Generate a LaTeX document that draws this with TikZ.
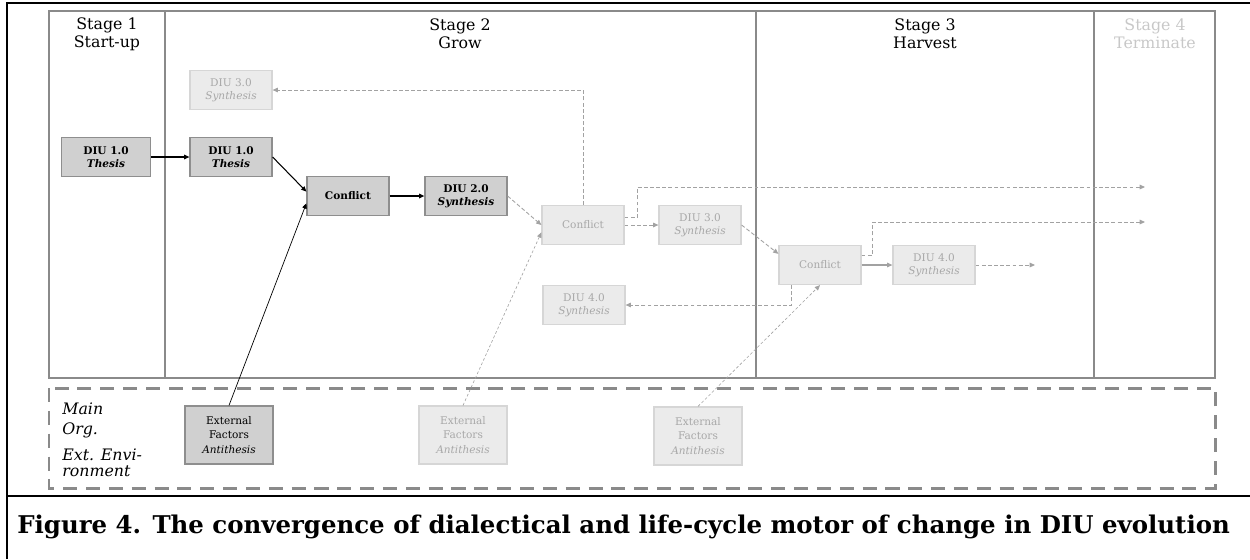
\documentclass[tikz,border=0pt]{standalone}
\usepackage{fontspec}
\setmainfont{DejaVu Serif}
\usetikzlibrary{arrows.meta,calc}
\definecolor{framegray}{HTML}{8A8A8A}
\definecolor{boxfill}{HTML}{D0D0D0}
\definecolor{boxedge}{HTML}{8E8E8E}
\definecolor{lightfill}{HTML}{EBEBEB}
\definecolor{lightedge}{HTML}{D6D6D6}
\definecolor{lighttext}{HTML}{A8A8A8}
\definecolor{fadetext}{HTML}{C8C8C8}
\definecolor{arrowgray}{HTML}{A2A2A2}

\begin{document}
\begin{tikzpicture}[x=0.02cm, y=-0.02cm,
  tip/.style={-{Triangle[length=3pt,width=2.6pt]}},
  darkbox/.style={draw=boxedge, fill=boxfill, line width=0.7pt, align=center,
    minimum width=1.64cm, minimum height=0.78cm, inner sep=1pt,
    font=\fontsize{6}{7.4}\selectfont\bfseries},
  lightbox/.style={draw=lightedge, fill=lightfill, text=lighttext, line width=0.7pt,
    align=center, minimum width=1.64cm, minimum height=0.78cm, inner sep=1pt,
    font=\fontsize{6}{7.4}\selectfont},
  extbox/.style={minimum width=1.76cm, minimum height=1.16cm,
    font=\fontsize{6}{8.2}\selectfont},
  stagetitle/.style={align=center, font=\fontsize{9}{10.4}\selectfont},
  sidelabel/.style={align=left, anchor=west, inner sep=0pt},
  solidarrow/.style={tip, draw=black, line width=0.6pt},
  dasharrow/.style={tip, draw=arrowgray, line width=0.5pt, dash pattern=on 2.2pt off 1.3pt},
  dotarrow/.style={tip, draw=arrowgray, line width=0.35pt, dash pattern=on 1.6pt off 1.2pt},
  greyarrow/.style={tip, draw=arrowgray, line width=0.6pt}]
 \useasboundingbox (0,0) rectangle (1250,559);
 \draw[line width=1.2pt] (7,559) -- (7,3) -- (1250,3);
 \draw[line width=1.2pt] (7,496) -- (1250,496);
 \draw[framegray, line width=1.4pt] (49,11) rectangle (1215,378);
 \foreach \xd in {165,756,1094}
   \draw[framegray, line width=1.4pt] (\xd,11) -- (\xd,378);
 \draw[framegray, line width=1.7pt, dash pattern=on 8pt off 5pt] (49,388) rectangle (1215,488);

 \node[stagetitle] (stage1) at (107,34) {Stage 1\\Start-up};
 \node[stagetitle] (stage2) at (460,34) {Stage 2\\Grow};
 \node[stagetitle] (stage3) at (925,34) {Stage 3\\Harvest};
 \node[stagetitle, text=fadetext] (stage4) at (1155,34) {Stage 4\\Terminate};

 \node[darkbox, minimum width=1.78cm] (thesisA) at (106,157) {DIU 1.0\\\textit{Thesis}};
 \node[darkbox] (thesisB) at (231,157) {DIU 1.0\\\textit{Thesis}};
 \node[darkbox] (conflictA) at (348,196) {Conflict};
 \node[darkbox] (synthA) at (466,196) {DIU 2.0\\\textit{Synthesis}};
 \node[lightbox] (synthB) at (231,90) {DIU 3.0\\\textit{Synthesis}};
 \node[lightbox] (conflictB) at (583,225) {Conflict};
 \node[lightbox] (synthC) at (700,225) {DIU 3.0\\\textit{Synthesis}};
 \node[lightbox] (synthD) at (584,305) {DIU 4.0\\\textit{Synthesis}};
 \node[lightbox] (conflictC) at (820,265) {Conflict};
 \node[lightbox] (synthE) at (934,265) {DIU 4.0\\\textit{Synthesis}};
 \node[darkbox, extbox] (extA) at (229,435) {External\\Factors\\\textit{Antithesis}};
 \node[lightbox, extbox] (extB) at (463,435) {External\\Factors\\\textit{Antithesis}};
 \node[lightbox, extbox] (extC) at (698,436) {External\\Factors\\\textit{Antithesis}};

 \coordinate (endA) at (1145,187);
 \coordinate (endB) at (1145,222);
 \coordinate (endC) at (1035,265);

 \draw[solidarrow] (thesisA) -- (thesisB);
 \draw[solidarrow] (thesisB.east) -- (conflictA.174);
 \draw[solidarrow, line width=0.4pt] (extA.north) -- (conflictA.190);
 \draw[solidarrow, line width=1pt] (conflictA) -- (synthA);
 \draw[dasharrow] (synthA.east) -- (conflictB.west);
 \draw[dotarrow] (extB.north) -- (conflictB.190);
 \draw[dasharrow] (conflictB.north) |- (synthB.east);
 \draw[dasharrow] ($(conflictB.east)+(0,-8)$) -- ++(13,0) |- (endA);
 \draw[dasharrow] (conflictB) -- (synthC);
 \draw[dasharrow] (synthC.east) -- (conflictC.165);
 \draw[dasharrow] ($(conflictC.south west)+(13,0)$) |- (synthD.east);
 \draw[dotarrow] (extC.north) -- (conflictC.south);
 \draw[dasharrow] ($(conflictC.east)+(0,-10)$) -- ++(11,0) |- (endB);
 \draw[greyarrow] (conflictC) -- (synthE);
 \draw[dasharrow] (synthE) -- (endC);

 \node[sidelabel, font=\fontsize{9}{11.3}\selectfont\itshape] (orgLbl) at (62,420) {Main\\Org.};
 \node[sidelabel, font=\fontsize{9}{9.4}\selectfont\itshape] (envLbl) at (62,463) {Ext. Envi-\\ronment};

 \node[anchor=west, inner sep=0pt, font=\fontsize{13.9}{16}\selectfont\bfseries] (caption) at (17,527)
   {Figure 4. The convergence of dialectical and life-cycle motor of change in DIU evolution};
\end{tikzpicture}
\end{document}
